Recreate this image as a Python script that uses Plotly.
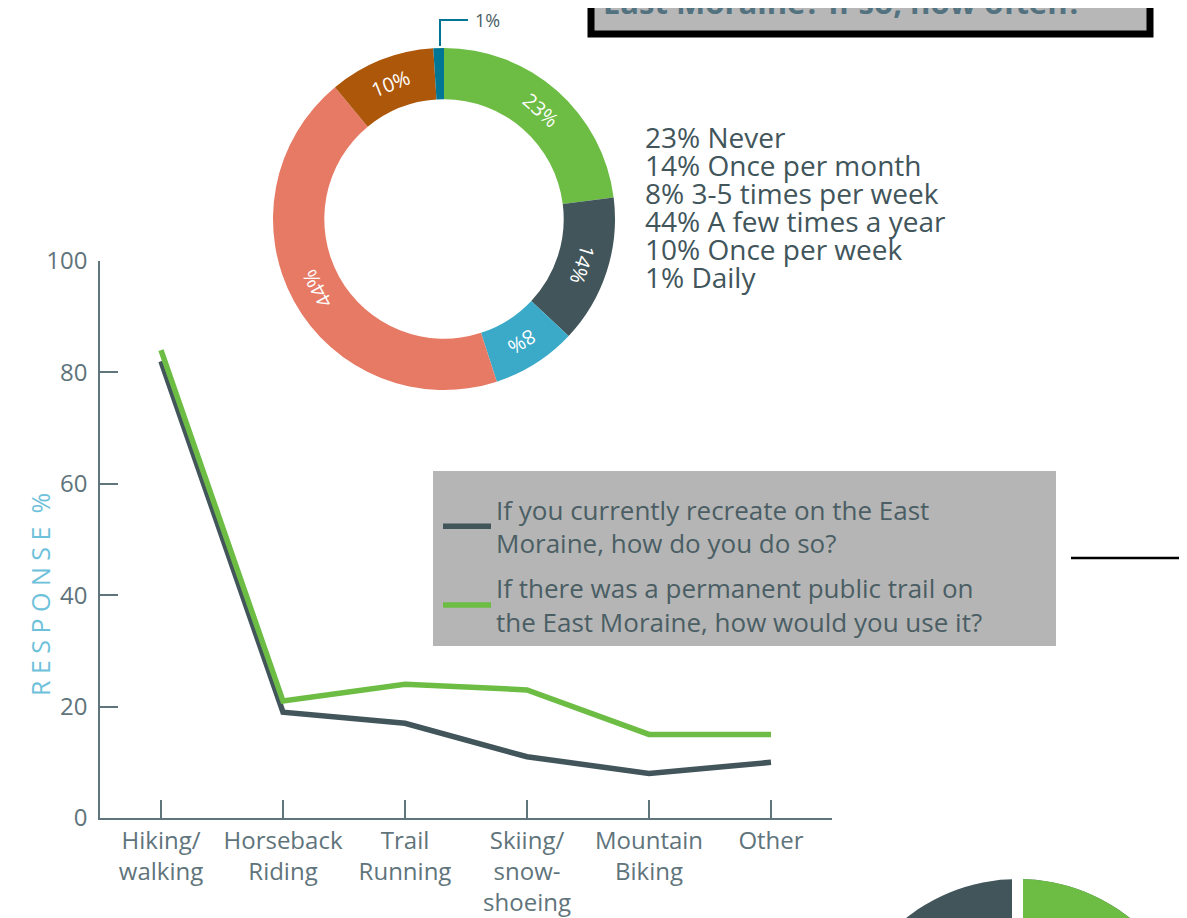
import numpy as np
import plotly.graph_objects as go

W, H = 1187, 918
OFF = 8  # default page margin of the html body

# ---------------- data ----------------
categories = ["Hiking/walking", "Horseback Riding", "Trail Running",
              "Skiing/snowshoeing", "Mountain Biking", "Other"]
tick_labels = ["Hiking/<br>walking", "Horseback<br>Riding", "Trail<br>Running",
               "Skiing/<br>snow-<br>shoeing", "Mountain<br>Biking", "Other"]
current_use = [82, 19, 17, 11, 8, 10]
future_use = [84, 21, 24, 23, 15, 15]
series_names = ["If you currently recreate on the East<br>Moraine, how do you do so?",
                "If there was a permanent public trail on<br>the East Moraine, how would you use it?"]

freq_labels = ["Never", "Once per month", "3-5 times per week",
               "A few times a year", "Once per week", "Daily"]
freq_values = [23, 14, 8, 44, 10, 1]
y_ticks = [0, 20, 40, 60, 80, 100]

# ---------------- styles ----------------
DARK = "#41555b"
GREEN = "#6dbd45"
AXIS = "#5f747b"
TEXT = "#4a5e64"
pie_colors = ["#6dbd45", "#41555b", "#3aaac8", "#e67a65", "#ad570b", "#017594"]
FONT = "Open Sans"


def X(px):
    return (px - OFF) / W


def Y(py):
    return 1 - (py - OFF) / H


fig = go.Figure()

# line chart
for vals, name, col in [(current_use, series_names[0], DARK),
                        (future_use, series_names[1], GREEN)]:
    fig.add_trace(go.Scatter(x=categories, y=vals, mode="lines", name=name,
                             line=dict(color=col, width=5.5),
                             xaxis="x", yaxis="y", legendgroup=name))

# donut geometry (page pixels)
PCX, PCY, R_OUT = 444, 219, 171
HOLE = 0.70
fig.add_trace(go.Pie(values=freq_values, labels=freq_labels, sort=False,
                     direction="clockwise", rotation=0, hole=HOLE,
                     marker=dict(colors=pie_colors, line=dict(width=0)),
                     textinfo="none",
                     domain=dict(x=[X(PCX - R_OUT), X(PCX + R_OUT)],
                                 y=[Y(PCY + R_OUT), Y(PCY - R_OUT)]),
                     showlegend=False))

fig.update_layout(
    width=W, height=H, margin=dict(l=0, r=0, t=0, b=0, autoexpand=False),
    paper_bgcolor="white", plot_bgcolor="rgba(0,0,0,0)",
    font=dict(family=FONT, color=AXIS),
    xaxis=dict(domain=[X(100), X(832)], range=[-0.5, 5.5], automargin=False,
               tickmode="array", tickvals=categories, ticktext=tick_labels,
               ticks="inside", ticklen=18, tickwidth=1.5, tickcolor=AXIS,
               showline=True, linecolor=AXIS, linewidth=1.5,
               showgrid=False, zeroline=False,
               tickfont=dict(size=24, color=AXIS, family=FONT), anchor="y"),
    yaxis=dict(domain=[Y(818), Y(261)], range=[0, 100], automargin=False,
               tickvals=y_ticks, ticks="inside", ticklen=18, tickwidth=1.5,
               tickcolor=AXIS, showline=True, linecolor=AXIS, linewidth=1.5,
               showgrid=False, zeroline=False, ticklabelstandoff=6,
               tickfont=dict(size=24, color=AXIS, family=FONT), anchor="x"),
    legend=dict(x=X(438), y=Y(486), xanchor="left", yanchor="top",
                bgcolor="rgba(0,0,0,0)", traceorder="grouped",
                tracegroupgap=8, itemwidth=48,
                font=dict(size=26, color=TEXT, family=FONT)),
)

shapes = []
# legend box
shapes.append(dict(type="rect", xref="paper", yref="paper",
                   x0=X(433), x1=X(1056), y0=Y(646), y1=Y(471),
                   fillcolor="#b5b5b5", line=dict(width=0), layer="below"))
# top title box (cut off)
shapes.append(dict(type="rect", xref="paper", yref="paper",
                   x0=X(591), x1=X(1150), y0=Y(34), y1=Y(-30),
                   fillcolor="#b7b7b7", line=dict(color="black", width=7)))
# black rule at right
shapes.append(dict(type="line", xref="paper", yref="paper",
                   x0=X(1071), x1=X(1200), y0=Y(558), y1=Y(558),
                   line=dict(color="black", width=2.5)))
# leader line for the small slice label
shapes.append(dict(type="path", xref="paper", yref="paper",
                   path=f"M {X(440)},{Y(46)} L {X(440)},{Y(20)} L {X(468)},{Y(20)}",
                   line=dict(color="#017594", width=2)))
# partial pie bottom right
cx, cy, r = 1018, 1059, 180
shapes.append(dict(type="circle", xref="paper", yref="paper",
                   x0=X(cx - r), x1=X(cx + r), y0=Y(cy + r), y1=Y(cy - r),
                   fillcolor=DARK, line=dict(width=0)))
ang = np.linspace(0, np.pi, 60)
pts = [(cx + r * np.sin(a), cy - r * np.cos(a)) for a in ang]
path = f"M {X(cx)},{Y(cy)} " + " ".join(f"L {X(px)},{Y(py)}" for px, py in pts) + " Z"
shapes.append(dict(type="path", xref="paper", yref="paper", path=path,
                   fillcolor=GREEN, line=dict(width=0)))
shapes.append(dict(type="line", xref="paper", yref="paper",
                   x0=X(1017.5), x1=X(1017.5), y0=Y(930), y1=Y(870),
                   line=dict(color="white", width=11)))
fig.update_layout(shapes=shapes)

annotations = []
# donut slice labels, placed tangentially at each slice's mid angle
r_mid = R_OUT * (1 + HOLE) / 2
cum = np.cumsum([0] + freq_values[:-1])
total = sum(freq_values)
for start, v in zip(cum, freq_values):
    mid = (start + v / 2) / total * 360.0
    a = np.radians(mid)
    if v >= 5:
        annotations.append(dict(text=f"{v}%", x=X(PCX + r_mid * np.sin(a)),
                                y=Y(PCY - r_mid * np.cos(a)), xref="paper", yref="paper",
                                showarrow=False, textangle=mid,
                                xanchor="center", yanchor="middle",
                                font=dict(size=20, color="white", family=FONT)))
    else:
        annotations.append(dict(text=f"{v}%", x=X(473), y=Y(20), xref="paper", yref="paper",
                                xanchor="left", yanchor="middle", showarrow=False,
                                font=dict(size=18, color=TEXT, family=FONT)))
# y-axis title
annotations.append(dict(text="R E S P O N S E  %", x=X(21), y=Y(595),
                        xref="paper", yref="paper", showarrow=False, textangle=-90,
                        font=dict(size=25, color="#6ec1da", family=FONT)))
# donut legend text
for i, (lab, v) in enumerate(zip(freq_labels, freq_values)):
    annotations.append(dict(text=f"{v}% {lab}", x=X(643), y=Y(137 + i * 28),
                            xref="paper", yref="paper", xanchor="left", yanchor="middle",
                            showarrow=False, font=dict(size=28, color=DARK, family=FONT)))
# cut-off title
annotations.append(dict(text="<b>East Moraine? If so, how often?</b>", x=X(843), y=Y(25),
                        xref="paper", yref="paper", xanchor="center", yanchor="bottom",
                        showarrow=False, font=dict(size=31, color="#527280", family=FONT)))
fig.update_layout(annotations=annotations)

fig.write_html("out.html")
